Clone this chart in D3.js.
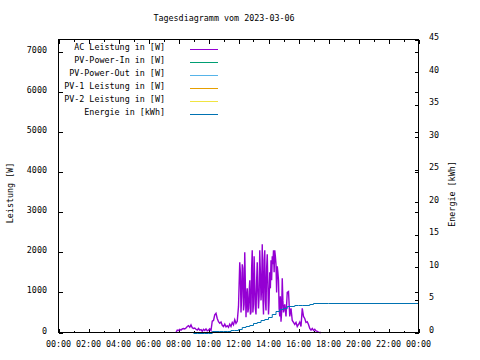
<!DOCTYPE html>
<html><head><meta charset="utf-8">
<script src="https://cdn.jsdelivr.net/npm/d3@7"></script>
<style>
html,body{margin:0;padding:0;background:#fff;}
svg{display:block;}
text{font-family:"DejaVu Sans Mono",monospace;font-size:8.4px;fill:#000;}
</style></head><body>
<svg id="c" width="480" height="360"></svg>
<script>
const title = "Tagesdiagramm vom 2023-03-06";
const seriesNames = ["AC Leistung in [W]","PV-Power-In in [W]","PV-Power-Out in [W]","PV-1 Leistung in [W]","PV-2 Leistung in [W]","Energie in [kWh]"];
const seriesColors = ["#9400d3","#009e73","#56b4e9","#e69f00","#f0e442","#0072b2"];
const xTickLabels = ["00:00","02:00","04:00","06:00","08:00","10:00","12:00","14:00","16:00","18:00","20:00","22:00","00:00"];
const yTicks = [0,1000,2000,3000,4000,5000,6000,7000];
const y2Ticks = [0,5,10,15,20,25,30,35,40,45];

const acTimes = ["07:50","07:55","08:00","08:05","08:10","08:15","08:20","08:25","08:30","08:35","08:40","08:45","08:50","08:55",
"09:00","09:05","09:10","09:15","09:20","09:25","09:30","09:35","09:40","09:45","09:50","09:55",
"10:00","10:05","10:10","10:15","10:20","10:25","10:30","10:35","10:40","10:45","10:50","10:55",
"11:00","11:05","11:10","11:15","11:20","11:25","11:30","11:35","11:40","11:45","11:50","11:55",
"12:00","12:02.5","12:05","12:07.5","12:10","12:12.5","12:15","12:17.5","12:20","12:22.5","12:25","12:27.5",
"12:30","12:32.5","12:35","12:37.5","12:40","12:42.5","12:45","12:47.5","12:50","12:52.5","12:55","12:57.5",
"13:00","13:02.5","13:05","13:07.5","13:10","13:12.5","13:15","13:17.5","13:20","13:22.5","13:25","13:27.5",
"13:30","13:32.5","13:35","13:37.5","13:40","13:42.5","13:45","13:47.5","13:50","13:52.5","13:55","13:57.5",
"14:00","14:02.5","14:05","14:07.5","14:10","14:12.5","14:15","14:17.5","14:20","14:22.5","14:25","14:27.5",
"14:30","14:32.5","14:35","14:37.5","14:40","14:42.5","14:45","14:47.5","14:50","14:52.5","14:55","14:57.5",
"15:00","15:05","15:10","15:15","15:20","15:25","15:30","15:35","15:40","15:45","15:50","15:55",
"16:00","16:05","16:10","16:15","16:20","16:25","16:30","16:35","16:40","16:45","16:50","16:55",
"17:00","17:05","17:10","17:15","17:20","17:25","17:30"];
const acLeistung = [0,60,50,80,60,90,100,90,110,150,170,130,190,120,
100,110,80,60,100,60,70,30,80,50,90,40,
60,90,50,280,300,440,480,350,270,230,260,180,
150,210,140,170,130,210,150,250,190,320,230,280,
650,1200,1750,1500,500,900,1700,1600,550,700,2000,1200,
380,900,1100,500,600,1000,1300,450,500,1600,2050,500,
700,1900,1200,600,450,1300,1750,1000,600,900,2050,1500,
800,1100,2200,900,450,1800,2050,800,550,1600,1950,1200,
450,800,1500,1100,1800,1300,1900,1700,2050,1500,2050,1900,
1700,1000,1650,1500,1300,600,400,900,270,500,1350,800,
500,700,400,1000,1020,400,600,300,250,200,250,150,
200,260,150,600,400,350,250,270,200,100,60,100,
50,80,40,30,10,0,0];

const enTimes = ["09:00","09:15","09:30","09:45","10:00","10:15","10:30","10:45","11:00","11:15","11:30","11:45",
"12:00","12:15","12:30","12:45","13:00","13:15","13:30","13:45","14:00","14:15","14:30","14:45",
"15:00","15:15","15:30","15:45","16:00","16:15","16:30","16:45","17:00","17:30","18:00","24:00"];
const energie = [0,0,0,0,0,0.2,0.2,0.3,0.3,0.3,0.4,0.4,
0.6,0.8,1.0,1.2,1.4,1.6,1.9,2.1,2.4,2.9,3.3,3.6,
3.8,4.0,4.1,4.2,4.2,4.3,4.3,4.4,4.5,4.5,4.5,4.5];

const toH = s => { const [h,m] = s.split(":").map(Number); return h + m/60; };

const L = 58.5, R = 418.5, T = 39.5, B = 332.5;
const svg = d3.select("#c");
const x = d3.scaleLinear().domain([0,24]).range([L,R]);
const y = d3.scaleLinear().domain([0,7300]).range([B,T]);
const y2 = d3.scaleLinear().domain([0,45]).range([B,T]);

// title
svg.append("text").attr("x",224).attr("y",20.5).attr("text-anchor","middle").text(title);

// ticks
const g = svg.append("g").attr("stroke","#000").attr("stroke-width",1).attr("shape-rendering","crispEdges");
d3.range(0,25).forEach(h=>{
  const len = h%2===0 ? 4 : 2;
  const xx = Math.round(x(h))+0.5;
  g.append("line").attr("x1",xx).attr("x2",xx).attr("y1",B).attr("y2",B-len);
  g.append("line").attr("x1",xx).attr("x2",xx).attr("y1",T).attr("y2",T+len);
});
yTicks.forEach(v=>{
  const yy = Math.round(y(v))+0.5;
  g.append("line").attr("x1",L).attr("x2",L+4).attr("y1",yy).attr("y2",yy);
  g.append("line").attr("x1",R).attr("x2",R-4).attr("y1",yy).attr("y2",yy);
});
y2Ticks.forEach(v=>{
  const yy = Math.round(y2(v))+0.5;
  g.append("line").attr("x1",R).attr("x2",R-4).attr("y1",yy).attr("y2",yy);
});

// tick labels
xTickLabels.forEach((t,i)=>{
  svg.append("text").attr("x",x(i*2)).attr("y",347).attr("text-anchor","middle").text(t);
});
yTicks.forEach(v=>{
  svg.append("text").attr("x",47).attr("y",y(v)+1).attr("text-anchor","end").text(v);
});
y2Ticks.forEach(v=>{
  svg.append("text").attr("x",429).attr("y",y2(v)+0.5).text(v);
});

// axis labels
svg.append("text").attr("transform","translate(12.5,193) rotate(-90)").attr("text-anchor","middle").text("Leistung [W]");
svg.append("text").attr("transform","translate(455,194) rotate(-90)").attr("text-anchor","middle").text("Energie [kWh]");

// data
const acData = acTimes.map((t,i)=>[toH(t),acLeistung[i]]);
const enData = enTimes.map((t,i)=>[toH(t),energie[i]]);
svg.append("path").datum(acData)
  .attr("fill","none").attr("stroke",seriesColors[0]).attr("stroke-width",1.4)
  .attr("d",d3.line().x(d=>x(d[0])).y(d=>y(d[1])));
svg.append("path").datum(enData)
  .attr("fill","none").attr("stroke",seriesColors[5]).attr("stroke-width",1)
  .attr("d",d3.line().curve(d3.curveStepAfter).x(d=>x(d[0])).y(d=>Math.round(y2(d[1]))+0.5));

// border
svg.append("rect").attr("x",L).attr("y",T).attr("width",R-L).attr("height",B-T)
  .attr("fill","none").attr("stroke","#000").attr("shape-rendering","crispEdges");

// legend
seriesNames.forEach((n,i)=>{
  const yy = 50 + i*13;
  svg.append("text").attr("x",165).attr("y",yy).attr("text-anchor","end").text(n);
  svg.append("line").attr("x1",190).attr("x2",218).attr("y1",yy-0.5).attr("y2",yy-0.5)
    .attr("stroke",seriesColors[i]).attr("stroke-width",1).attr("shape-rendering","crispEdges");
});
</script>
</body></html>
